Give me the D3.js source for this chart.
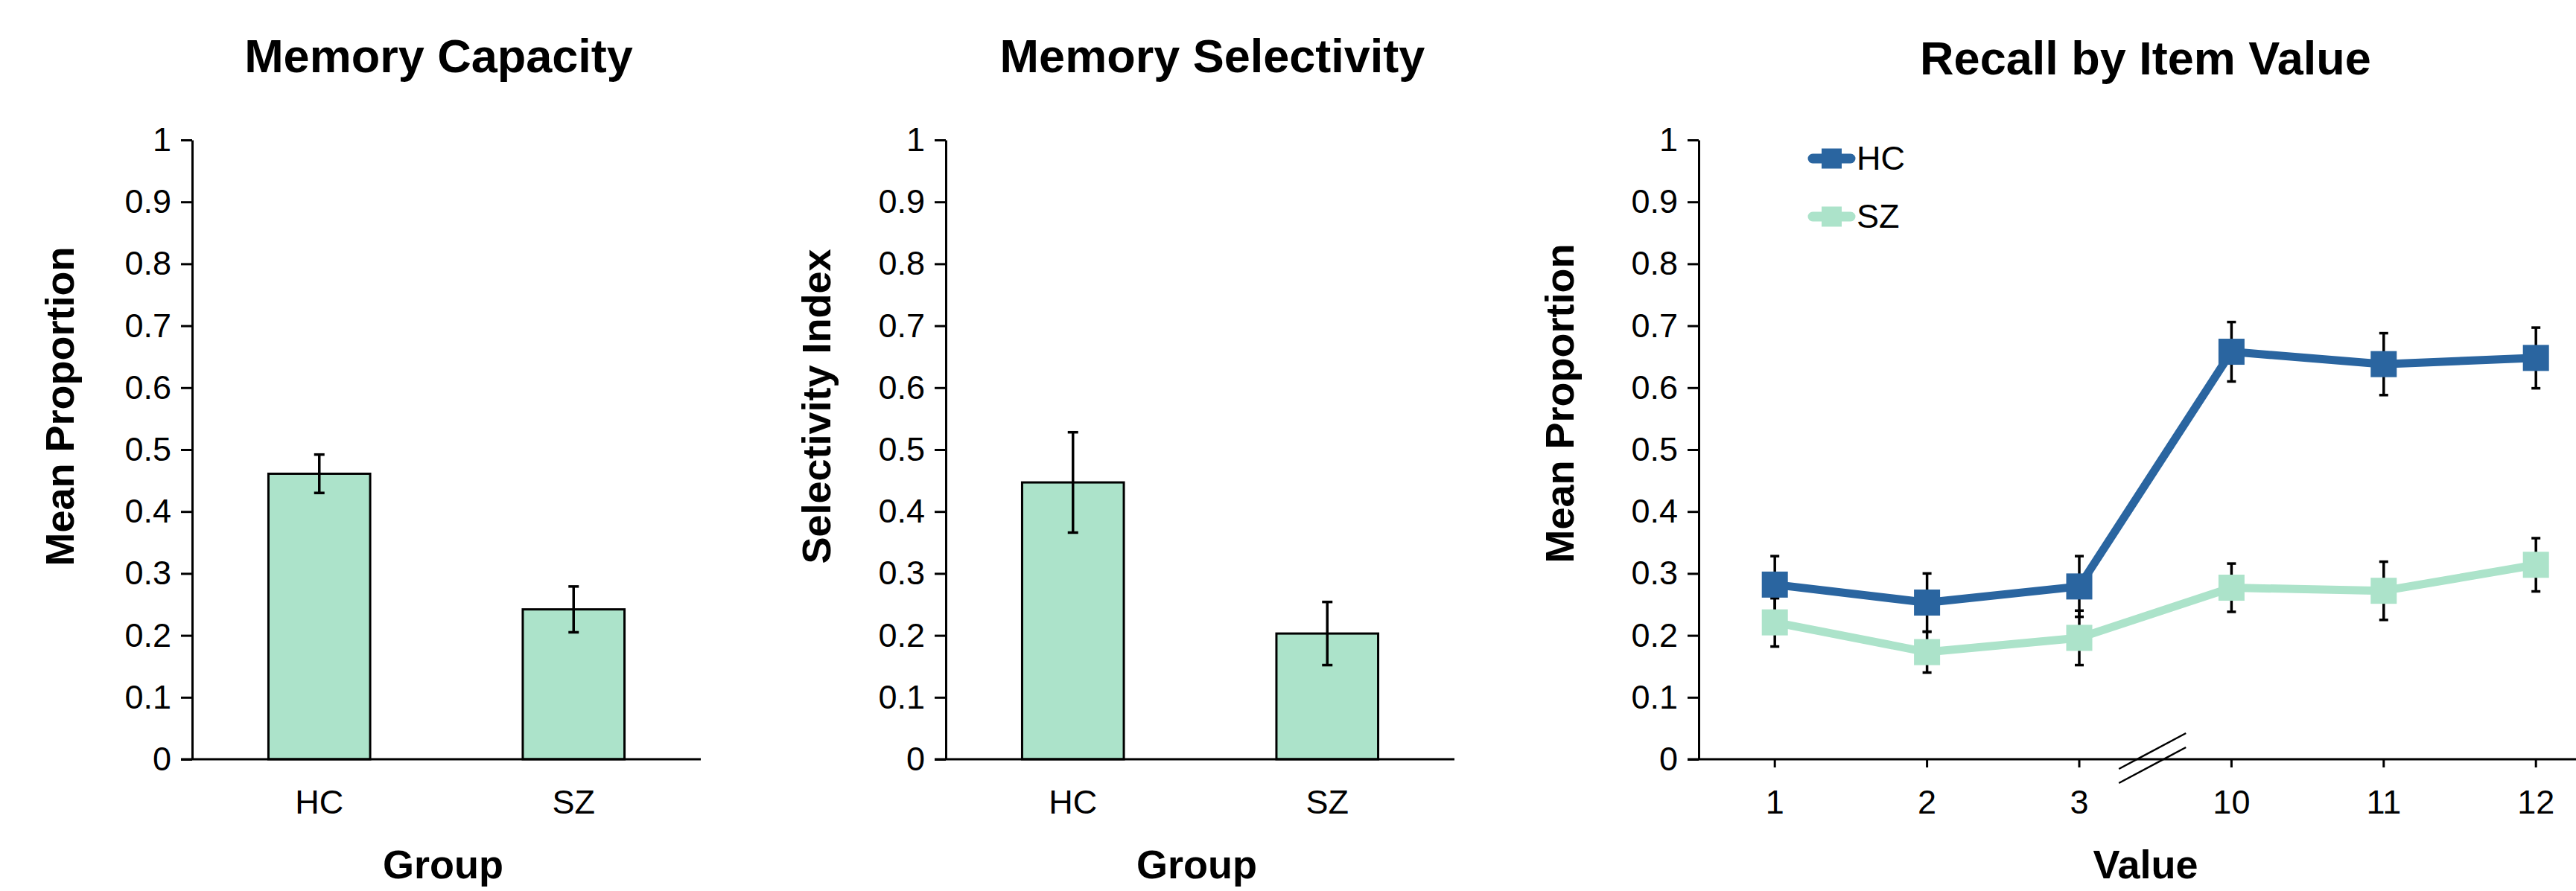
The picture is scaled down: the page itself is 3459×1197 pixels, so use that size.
<!DOCTYPE html>
<meta charset="utf-8">
<script src="https://d3js.org/d3.v7.min.js"></script>
<style>
  html, body { margin: 0; padding: 0; background: #fff; }
  text { font-family: "Liberation Sans", Arial, sans-serif; fill: #000; }
</style>
<body>
<div id="my_dataviz"></div>
<script>

  // ---- data ----
  var groups = ["HC", "SZ"];
  var capacityMean = [0.461, 0.242];
  var capacityErr = [0.031, 0.037];
  var selectivityMean = [0.447, 0.203];
  var selectivityErr = [0.081, 0.051];

  var itemValues = ["1", "2", "3", "10", "11", "12"];
  var hcRecall = [0.282, 0.253, 0.279, 0.658, 0.638, 0.648];
  var hcErr = [0.046, 0.047, 0.049, 0.048, 0.050, 0.049];
  var szRecall = [0.221, 0.173, 0.196, 0.277, 0.272, 0.314];
  var szErr = [0.039, 0.033, 0.044, 0.039, 0.047, 0.043];

  var yTicks = [0, 0.1, 0.2, 0.3, 0.4, 0.5, 0.6, 0.7, 0.8, 0.9, 1];

  var mint = "#ace3ca", blue = "#2a65a0";

  var width = 3459, height = 1197;
  var svg = d3.select("#my_dataviz")
    .append("svg")
    .attr("width", width)
    .attr("height", height);

  // shared vertical scale
  var y = d3.scaleLinear().domain([0, 1]).range([1020, 188]);

  function yAxis(g, x0) {
    var ax = g.append("g")
      .attr("transform", "translate(" + x0 + ",0)")
      .call(d3.axisLeft(y).tickValues(yTicks).tickFormat(function (d) { return String(d); })
        .tickSize(15).tickSizeOuter(0).tickPadding(13));
    ax.select(".domain").attr("stroke", "#000").attr("stroke-width", 3);
    ax.selectAll(".tick line").attr("stroke", "#000").attr("stroke-width", 3);
    ax.selectAll(".tick text").style("font-size", "45px").attr("fill", "#000");
  }

  function label(txt, x, yy, size, rotate) {
    var t = svg.append("text")
      .attr("text-anchor", "middle")
      .style("font-size", size + "px")
      .style("font-weight", "bold")
      .text(txt);
    if (rotate) t.attr("transform", "translate(" + x + "," + yy + ")rotate(-90)");
    else t.attr("x", x).attr("y", yy);
  }

  function errorBars(g, xs, means, errs, cap) {
    var eb = g.append("g").selectAll("g").data(means).enter().append("g");
    eb.append("line")
      .attr("x1", function (d, i) { return xs[i]; })
      .attr("x2", function (d, i) { return xs[i]; })
      .attr("y1", function (d, i) { return y(d + errs[i]); })
      .attr("y2", function (d, i) { return y(d - errs[i]); });
    [1, -1].forEach(function (s) {
      eb.append("line")
        .attr("x1", function (d, i) { return xs[i] - cap / 2; })
        .attr("x2", function (d, i) { return xs[i] + cap / 2; })
        .attr("y1", function (d, i) { return y(d + s * errs[i]); })
        .attr("y2", function (d, i) { return y(d + s * errs[i]); });
    });
    eb.selectAll("line").attr("stroke", "#000").attr("stroke-width", 3.5);
  }

  // ---- bar panels ----
  function barPanel(x0, means, errs, title, titleX, yLabel, yLabelX, groupX) {
    var x = d3.scaleBand().domain(groups).range([x0, x0 + 683])
      .paddingInner(0.6).paddingOuter(0.3);
    var g = svg.append("g");

    g.selectAll("rect").data(means).enter().append("rect")
      .attr("x", function (d, i) { return x(groups[i]); })
      .attr("width", x.bandwidth())
      .attr("y", function (d) { return y(d); })
      .attr("height", function (d) { return y(0) - y(d); })
      .attr("fill", mint)
      .attr("stroke", "#000")
      .attr("stroke-width", 3);

    var centers = groups.map(function (k) { return x(k) + x.bandwidth() / 2; });
    errorBars(g, centers, means, errs, 14);

    var xa = g.append("g")
      .attr("transform", "translate(0," + y(0) + ")")
      .call(d3.axisBottom(x).tickSize(0).tickPadding(41));
    xa.select(".domain").remove();
    xa.selectAll(".tick text").style("font-size", "45px").attr("fill", "#000");
    g.append("line")
      .attr("x1", x0 - 15).attr("x2", x0 + 683)
      .attr("y1", y(0)).attr("y2", y(0))
      .attr("stroke", "#000").attr("stroke-width", 3);

    yAxis(g, x0);

    label(title, titleX, 97, 63);
    label(yLabel, yLabelX, 546, 54, true);
    label("Group", groupX, 1180, 54);
  }

  barPanel(258, capacityMean, capacityErr, "Memory Capacity", 589, "Mean Proportion", 99, 595);
  barPanel(1270, selectivityMean, selectivityErr, "Memory Selectivity", 1628, "Selectivity Index", 1115, 1607);

  // ---- line panel ----
  var x3 = d3.scaleBand().domain(itemValues).range([2281, 2281 + 6 * 204.4]).padding(0);
  var cx = itemValues.map(function (k) { return x3(k) + x3.bandwidth() / 2; });
  var g3 = svg.append("g");

  var xa3 = g3.append("g")
    .attr("transform", "translate(0," + y(0) + ")")
    .call(d3.axisBottom(x3).tickSize(11).tickSizeOuter(0).tickPadding(30));
  xa3.select(".domain").remove();
  xa3.selectAll(".tick line").attr("stroke", "#000").attr("stroke-width", 3);
  xa3.selectAll(".tick text").style("font-size", "45px").attr("fill", "#000");
  g3.append("line")
    .attr("x1", 2266).attr("x2", 2281 + 6 * 204.4)
    .attr("y1", y(0)).attr("y2", y(0))
    .attr("stroke", "#000").attr("stroke-width", 3);

  // axis break marks
  var bx = x3("10") - 4;
  [13, 32].forEach(function (off) {
    g3.append("line")
      .attr("x1", bx - 45).attr("y1", y(0) + off)
      .attr("x2", bx + 45).attr("y2", y(0) + off - 48)
      .attr("stroke", "#000").attr("stroke-width", 2.5);
  });

  yAxis(g3, 2281);

  errorBars(g3, cx, hcRecall, hcErr, 12);
  errorBars(g3, cx, szRecall, szErr, 12);

  var line = d3.line()
    .x(function (d, i) { return cx[i]; })
    .y(function (d) { return y(d); });

  [[szRecall, mint], [hcRecall, blue]].forEach(function (s) {
    g3.append("path")
      .datum(s[0])
      .attr("d", line)
      .attr("fill", "none")
      .attr("stroke", s[1])
      .attr("stroke-width", 11)
      .attr("stroke-linejoin", "round");
    g3.append("g").selectAll("rect").data(s[0]).enter().append("rect")
      .attr("x", function (d, i) { return cx[i] - 17.5; })
      .attr("y", function (d) { return y(d) - 17.5; })
      .attr("width", 35).attr("height", 35)
      .attr("fill", s[1]);
  });

  // legend
  var legend = [["HC", blue, 213], ["SZ", mint, 291]];
  legend.forEach(function (l) {
    svg.append("line")
      .attr("x1", 2434).attr("x2", 2485)
      .attr("y1", l[2]).attr("y2", l[2])
      .attr("stroke", l[1]).attr("stroke-width", 13)
      .attr("stroke-linecap", "round");
    svg.append("rect")
      .attr("x", 2446).attr("y", l[2] - 13.5)
      .attr("width", 27).attr("height", 27)
      .attr("fill", l[1]);
    svg.append("text")
      .attr("x", 2493).attr("y", l[2] + 15)
      .style("font-size", "45px")
      .text(l[0]);
  });

  label("Recall by Item Value", 2881, 100, 63);
  label("Mean Proportion", 2113, 542, 54, true);
  label("Value", 2881, 1180, 54);

</script>
</body>
